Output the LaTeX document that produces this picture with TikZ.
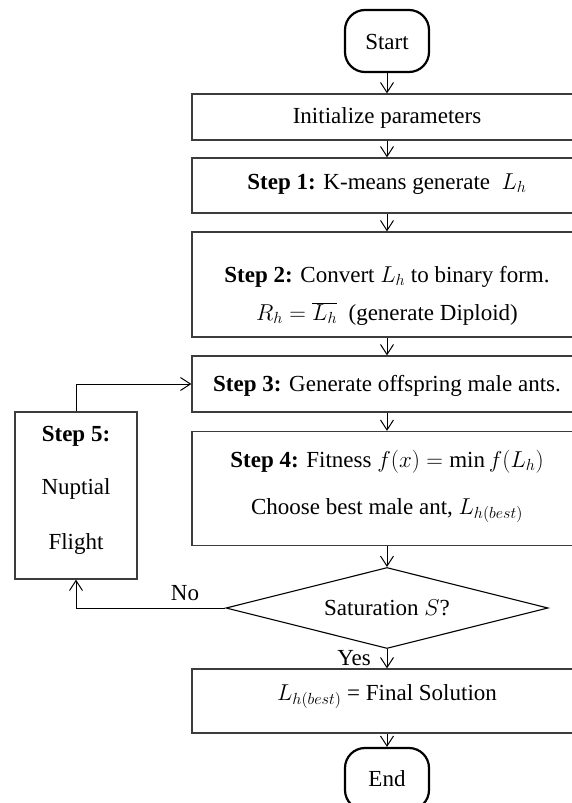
\documentclass[tikz,border=0pt]{standalone}
\usepackage{fix-cm}
\usepackage{fontspec}
\setmainfont{Liberation Serif}
\usetikzlibrary{arrows.meta,shapes.geometric}
\definecolor{boxline}{HTML}{3C3C3C}
\tikzset{
  procbox/.style={draw=boxline, line width=1.3pt, rectangle, inner sep=0pt, minimum width=390pt},
  termbox/.style={draw=black, line width=2.2pt, rectangle, rounded corners=20pt, inner sep=0pt, minimum width=84pt, minimum height=62pt},
  decbox/.style={draw=black, line width=1.1pt, diamond, aspect=4, inner sep=0pt, minimum width=322pt, minimum height=81pt},
  txt/.style={anchor=base, inner sep=0pt, font=\fontsize{23}{28}\selectfont},
  arr/.style={draw=black, line width=1pt, -{Straight Barb[length=10pt,width=13pt,line width=1pt]}}
}
\begin{document}
\begin{tikzpicture}[x=1pt,y=-1pt]
\useasboundingbox (0,0) rectangle (571,803);
% boxes
\node[termbox] (start) at (387,41) {};
\node[procbox, minimum height=46pt] (init) at (387,117) {};
\node[procbox, minimum height=55pt] (s1) at (387,185.5) {};
\node[procbox, minimum height=105pt] (s2) at (387,284.5) {};
\node[procbox, minimum height=56pt] (s3) at (387,384) {};
\node[procbox, minimum height=114pt] (s4) at (387,488.5) {};
\node[decbox] (dec) at (387,608) {};
\node[procbox, minimum height=64pt] (fin) at (387,701) {};
\node[termbox] (endn) at (387,779) {};
\node[draw=boxline, line width=1.3pt, rectangle, inner sep=0pt, minimum width=122pt, minimum height=167pt] (s5) at (76,495.5) {};
% texts
\node[txt] (tstart) at (387,49) {Start};
\node[txt] (tinit) at (387,123) {Initialize parameters};
\node[txt] (ts1) at (387,189) {\textbf{Step 1:} K-means generate \ $L_h$};
\node[txt] (ts2a) at (387,282) {\textbf{Step 2:} Convert $L_h$ to binary form.};
\node[txt] (ts2b) at (387,320) {$R_h = \overline{L_h}$ \ (generate Diploid)};
\node[txt] (ts3) at (387,391) {\textbf{Step 3:} Generate offspring male ants.};
\node[txt] (ts4a) at (387,467) {\textbf{Step 4:} Fitness $f(x) = \min f(L_h)$};
\node[txt] (ts4b) at (387,514) {Choose best male ant, $L_{h(best)}$};
\node[txt] (ts5a) at (76,441) {\textbf{Step 5:}};
\node[txt] (ts5b) at (76,494) {Nuptial};
\node[txt] (ts5c) at (76,549) {Flight};
\node[txt] (tdec) at (387,615) {Saturation $S$?};
\node[txt] (tfin) at (387,700) {$L_{h(best)}$ = Final Solution};
\node[txt] (tend) at (387,786) {End};
\node[txt] (tno) at (185,600) {No};
\node[txt] (tyes) at (354,665) {Yes};
% connectors
\draw[arr] (start.south) -- (init.north);
\draw[arr] (init.south) -- (s1.north);
\draw[arr] (s1.south) -- (s2.north);
\draw[arr] (s2.south) -- (s3.north);
\draw[arr] (s3.south) -- (s4.north);
\draw[arr] (s4.south) -- (dec.north);
\draw[arr] (dec.south) -- (fin.north);
\draw[arr] (fin.south) -- (endn.north);
\draw[arr] (s5.north) |- (s3.west);
\draw[arr] (dec.west) -| (s5.south);
\end{tikzpicture}
\end{document}
